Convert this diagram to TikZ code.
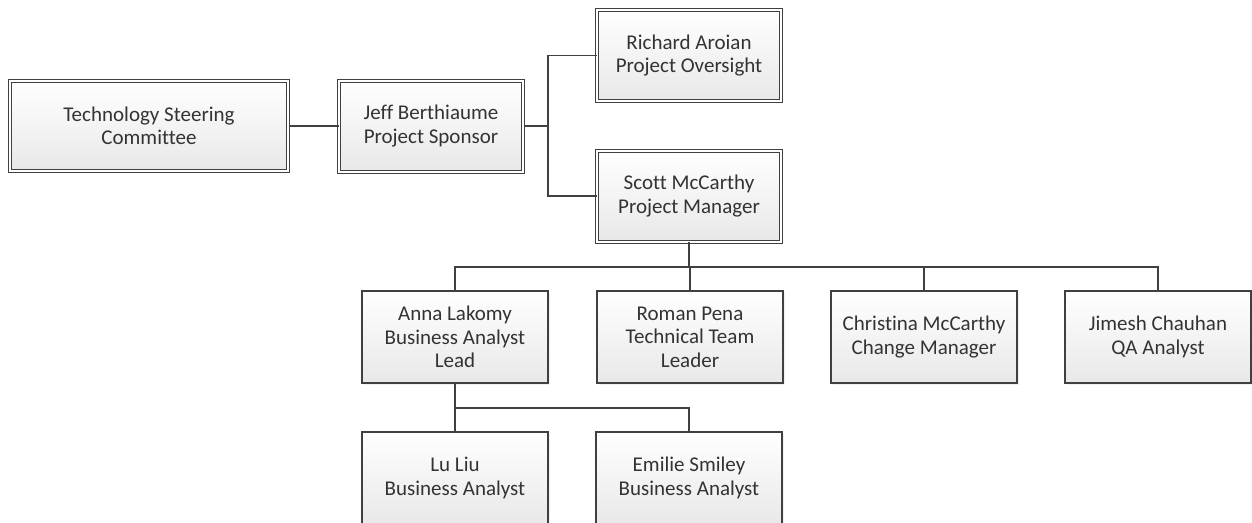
\documentclass[tikz,border=0pt]{standalone}
\usepackage{fontspec}
\setmainfont[Ligatures=NoCommon]{Carlito}
\usetikzlibrary{shadows}

\begin{document}
\begin{tikzpicture}[x=1pt,y=-1pt]
  \tikzstyle{every node}=[align=center,inner sep=0pt,text=black!80,
    font=\fontsize{21}{23.5}\selectfont]
  \tikzstyle{staff}=[draw=black!75,line width=1.4pt,top color=white,bottom color=black!9,
    minimum width=186pt,minimum height=92pt,
    drop shadow={opacity=0.12,shadow xshift=1.5pt,shadow yshift=-1.5pt}]
  \tikzstyle{head}=[staff,double=white,double distance=2pt,line width=1pt,
    minimum width=184pt,minimum height=91pt]
  \tikzstyle{wire}=[draw=black!75,line width=1.4pt]
  \clip (0,0) rectangle (1252,522);
  % top row
  \node[head,minimum width=278pt,minimum height=90pt] (steering) at (149,126) {Technology Steering\\Committee};
  \node[head] (sponsor) at (431,126) {Jeff Berthiaume\\Project Sponsor};
  \node[head] (oversight) at (689,55.5) {Richard Aroian\\Project Oversight};
  \node[head] (manager) at (689,196) {Scott McCarthy\\Project Manager};
  % team
  \node[staff] (balead) at (455,337) {Anna Lakomy\\Business Analyst\\Lead};
  \node[staff] (techlead) at (690,337) {Roman Pena\\Technical Team\\Leader};
  \node[staff] (change) at (924,337) {Christina McCarthy\\Change Manager};
  \node[staff] (qa) at (1158,337) {Jimesh Chauhan\\QA Analyst};
  \node[staff] (analyst1) at (455,478) {Lu Liu\\Business Analyst};
  \node[staff] (analyst2) at (689,478) {Emilie Smiley\\Business Analyst};
  % connectors
  \coordinate (sbus) at (548,126);
  \coordinate (mbus) at (689,267);
  \coordinate (abus) at (455,408);
  \draw[wire] (steering.east) -- (sponsor.west);
  \draw[wire] (sponsor.east) -- (sbus);
  \draw[wire] (oversight.west) -| (sbus) |- (manager.west);
  \draw[wire] (manager.south) -- (mbus);
  \draw[wire] (balead.north) |- (mbus) -| (qa.north);
  \draw[wire] (techlead.north) -- (techlead.north |- mbus);
  \draw[wire] (change.north) -- (change.north |- mbus);
  \draw[wire] (balead.south) -- (abus) -| (analyst2.north);
  \draw[wire] (abus) -- (analyst1.north);
\end{tikzpicture}
\end{document}
